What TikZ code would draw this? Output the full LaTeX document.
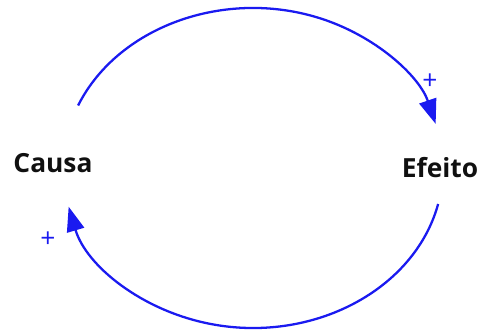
\documentclass[tikz,border=0pt]{standalone}
\usepackage{fontspec}
\setmainfont{Open Sans}
\usepackage{tikz}
\usetikzlibrary{arrows.meta,positioning,calc}
\usepackage{xcolor}
\definecolor{loopblue}{HTML}{1A1AF0}
\definecolor{labelink}{HTML}{101010}

\begin{document}
\begin{tikzpicture}[x=0.02cm, y=0.02cm,
    varname/.style={font=\fontsize{15}{18}\selectfont\bfseries, text=labelink, inner sep=1pt},
    polarity/.style={font=\fontsize{15}{17}\selectfont, text=loopblue, inner sep=0pt},
    link/.style={draw=loopblue, line width=1.3pt, -{Triangle[length=14pt, width=10pt]}}]
  \useasboundingbox (0,0) rectangle (482,334);
  \node[varname] (causa) at (53,171) {Causa};
  \node[varname] (efeito) at (440,166) {Efeito};
  % ends of the two arcs
  \coordinate (topstart) at ($(253,166)+(157:190 and 160)$);
  \coordinate (botstart) at ($(253,166)+(-13:190 and 160)$);
  \draw[link] (topstart) arc[start angle=157, end angle=16, x radius=190, y radius=160];
  \draw[link] (botstart) arc[start angle=-13, end angle=-166, x radius=190, y radius=160];
  \node[polarity] (plusup) at (430,252) {+};
  \node[polarity] (plusdown) at (48,94) {+};
\end{tikzpicture}
\end{document}
